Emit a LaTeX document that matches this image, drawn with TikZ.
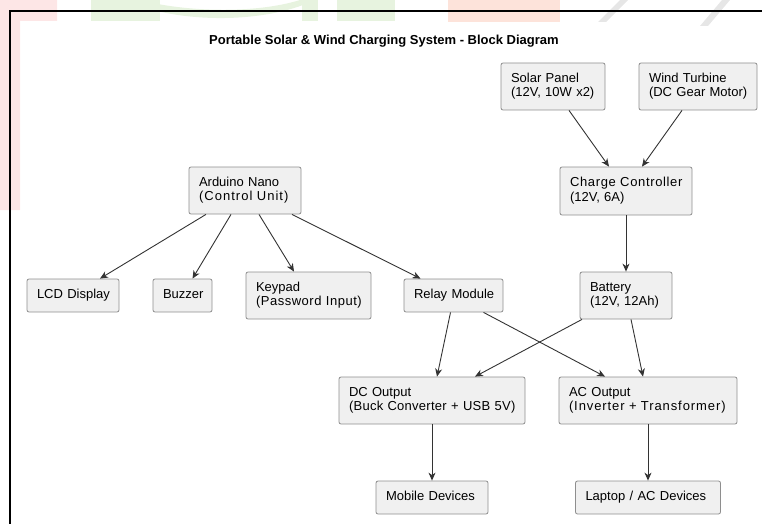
\documentclass[tikz,border=0pt]{standalone}
\usepackage{fontspec}
\setmainfont{Liberation Sans}
\usetikzlibrary{arrows.meta}
\definecolor{boxfill}{HTML}{F0F0F0}
\definecolor{boxline}{HTML}{8E8E8E}
\definecolor{arrowcol}{HTML}{333333}
\definecolor{wmpink}{HTML}{FDE6E6}
\definecolor{wmgreen}{HTML}{E7F3DF}
\definecolor{wmsalmon}{HTML}{FDE3DA}
\definecolor{wmgray}{HTML}{E6E6E6}
\newcommand{\twolines}[1]{\begin{tabular}{@{}l@{}}#1\end{tabular}}
\newcommand{\spaced}[2]{{\addfontfeature{LetterSpace=#1}#2}}
\begin{document}
\begin{tikzpicture}[x=1pt,y=-1pt,
  blk/.style 2 args={draw=boxline, fill=boxfill, rounded corners=2pt, line width=0.8pt,
    inner xsep=10pt, inner ysep=0pt, align=left, text width=#1pt-20pt,
    minimum width=#1pt, minimum height=#2pt,
    font=\fontsize{13}{14.5}\selectfont},
  arr/.style={draw=arrowcol, line width=0.9pt, -{Stealth[length=8pt,width=7pt,inset=2.5pt]}},
  wm/.style={draw=none}
]
\useasboundingbox (0,0) rectangle (762,524);
% faint watermark shapes
\fill[wmpink] (0,0) -- (57,0) -- (57,21) -- (20,21) -- (20,210) -- (0,210) -- cycle;
\fill[wmgreen] (91,0) rectangle (160,21);
\fill[wmgreen] (125,0) .. controls (170,22) and (260,26) .. (315,0) -- (300,0) .. controls (255,14) and (185,12) .. (140,0) -- cycle;
\fill[wmgreen] (302,0) rectangle (318,21);
\fill[wmgreen] (337,0) rectangle (395,21);
\fill[wmsalmon] (448,0) rectangle (560,22);
\fill[wmgray] (598,22) -- (606,22) -- (628,0) -- (620,0) -- cycle;
\fill[wmgray] (700,26) -- (708,26) -- (730,0) -- (722,0) -- cycle;
% frame
\draw[line width=1.4pt, black] (10,524) -- (10,11) -- (762,11);
% title
\node[font=\fontsize{13}{15}\selectfont\bfseries] (title) at (384,41) {Portable Solar \& Wind Charging System - Block Diagram};
% boxes
\node[blk={104}{47}] (solar) at (553,86.5) {\twolines{Solar Panel\\(12V, 10W x2)}};
\node[blk={118}{47}] (wind) at (698,86.5) {\twolines{Wind Turbine\\(DC Gear Motor)}};
\node[blk={132}{48}] (cc) at (626,191) {\twolines{\spaced{5}{Charge Controller}\\(12V, 6A)}};
\node[blk={112}{47}] (ard) at (245,190.5) {\twolines{Arduino Nano\\\spaced{8}{(Control Unit)}}};
\node[blk={92}{33}] (lcd) at (73,295.5) {\twolines{LCD Display}};
\node[blk={59}{33}] (buz) at (182.5,295.5) {\twolines{Buzzer}};
\node[blk={125}{47}] (key) at (308.5,295.5) {\twolines{Keypad\\\spaced{4}{(Password Input)}}};
\node[blk={99}{33}] (relay) at (453.5,295.5) {\twolines{Relay Module}};
\node[blk={92}{47}] (bat) at (626,295.5) {\twolines{Battery\\(12V, 12Ah)}};
\node[blk={186}{47}] (dc) at (432,400.5) {\twolines{DC Output\\\spaced{2}{(Buck Converter + USB 5V)}}};
\node[blk={178}{47}] (ac) at (648,400.5) {\twolines{AC Output\\\spaced{7}{(Inverter + Transformer)}}};
\node[blk={112}{33}] (mob) at (432,497.5) {\twolines{Mobile Devices}};
\node[blk={145}{33}] (lap) at (648,497.5) {\twolines{Laptop / AC Devices}};
% connectors
\draw[arr] ([xshift=16pt]solar.south) -- ([xshift=-17pt]cc.north);
\draw[arr] ([xshift=-16pt]wind.south) -- ([xshift=16pt]cc.north);
\draw[arr] (cc.south) -- (bat.north);
\draw[arr] ([xshift=-39pt]ard.south) -- ([xshift=27pt]lcd.north);
\draw[arr] ([xshift=-14pt]ard.south) -- ([xshift=10pt]buz.north);
\draw[arr] ([xshift=14pt]ard.south) -- ([xshift=-14.5pt]key.north);
\draw[arr] ([xshift=47pt]ard.south) -- ([xshift=-33pt]relay.north);
\draw[arr] ([xshift=-3pt]relay.south) -- ([xshift=5pt]dc.north);
\draw[arr] ([xshift=30pt]relay.south) -- ([xshift=-43pt]ac.north);
\draw[arr] ([xshift=-44pt]bat.south) -- ([xshift=43pt]dc.north);
\draw[arr] ([xshift=5pt]bat.south) -- ([xshift=-5pt]ac.north);
\draw[arr] (dc.south) -- (mob.north);
\draw[arr] (ac.south) -- (lap.north);
\end{tikzpicture}
\end{document}
